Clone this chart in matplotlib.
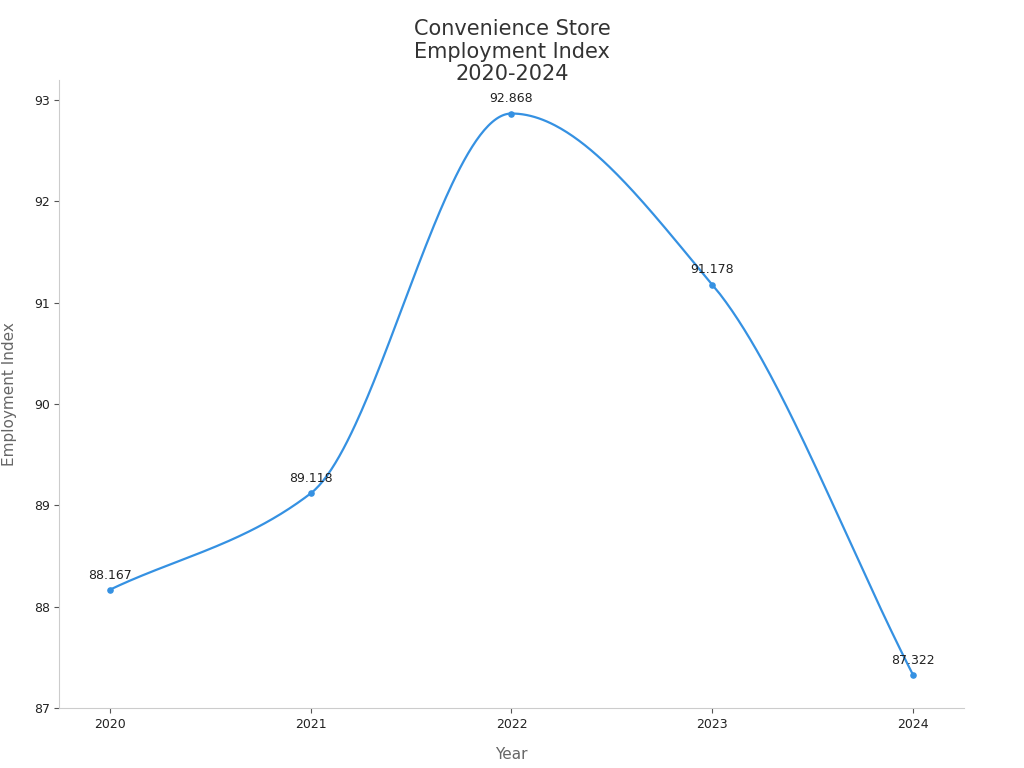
import numpy as np
import matplotlib.pyplot as plt

years = [2020, 2021, 2022, 2023, 2024]
index_values = [88.167, 89.118, 92.868, 91.178, 87.322]


def monotone_curve(x, y, n=400):
    # Fritsch-Carlson monotone cubic, just for drawing the smooth line
    x = np.asarray(x, float)
    y = np.asarray(y, float)
    h = np.diff(x)
    d = np.diff(y) / h
    m = np.zeros_like(y)
    m[0], m[-1] = d[0], d[-1]
    for i in range(1, len(y) - 1):
        if d[i - 1] * d[i] <= 0:
            m[i] = 0
        else:
            m[i] = 3 * (h[i - 1] + h[i]) / ((2 * h[i] + h[i - 1]) / d[i - 1] + (h[i] + 2 * h[i - 1]) / d[i])
    xs = np.linspace(x[0], x[-1], n)
    ys = np.empty_like(xs)
    for j, xv in enumerate(xs):
        i = min(np.searchsorted(x, xv, side='right') - 1, len(x) - 2)
        t = (xv - x[i]) / h[i]
        h00 = 2 * t**3 - 3 * t**2 + 1
        h10 = t**3 - 2 * t**2 + t
        h01 = -2 * t**3 + 3 * t**2
        h11 = t**3 - t**2
        ys[j] = h00 * y[i] + h10 * h[i] * m[i] + h01 * y[i + 1] + h11 * h[i] * m[i + 1]
    return xs, ys


fig = plt.figure(figsize=(10.24, 7.68), dpi=100)
ax = fig.add_axes([0.058, 0.078, 0.883, 0.818])

xs, ys = monotone_curve(years, index_values)
ax.plot(xs, ys, color='#3591e2', lw=1.6)
ax.scatter(years, index_values, color='#3591e2', s=14, zorder=3)
for x, y in zip(years, index_values):
    ax.annotate(f'{y:.3f}', (x, y), xytext=(0, 6), textcoords='offset points',
                ha='center', va='bottom', fontsize=9, color='#222222')

ax.set_xlim(2019.75, 2024.25)
ax.set_ylim(87, 93.2)
ax.set_xticks(years)
ax.set_xticklabels([str(y) for y in years])
ax.set_yticks(range(87, 94))
ax.tick_params(labelsize=9, colors='#222222')
ax.tick_params(axis='both', color='#555555')
for s in ['top', 'right']:
    ax.spines[s].set_visible(False)
for s in ['left', 'bottom']:
    ax.spines[s].set_color('#cccccc')
ax.set_xlabel('Year', fontsize=11, color='#666666', labelpad=12)
ax.set_ylabel('Employment Index', fontsize=11, color='#666666', labelpad=12)
fig.suptitle('Convenience Store\nEmployment Index\n2020-2024', fontsize=15, color='#333333',
             y=0.975, linespacing=1.15)

fig.savefig('out.png', dpi=100)
